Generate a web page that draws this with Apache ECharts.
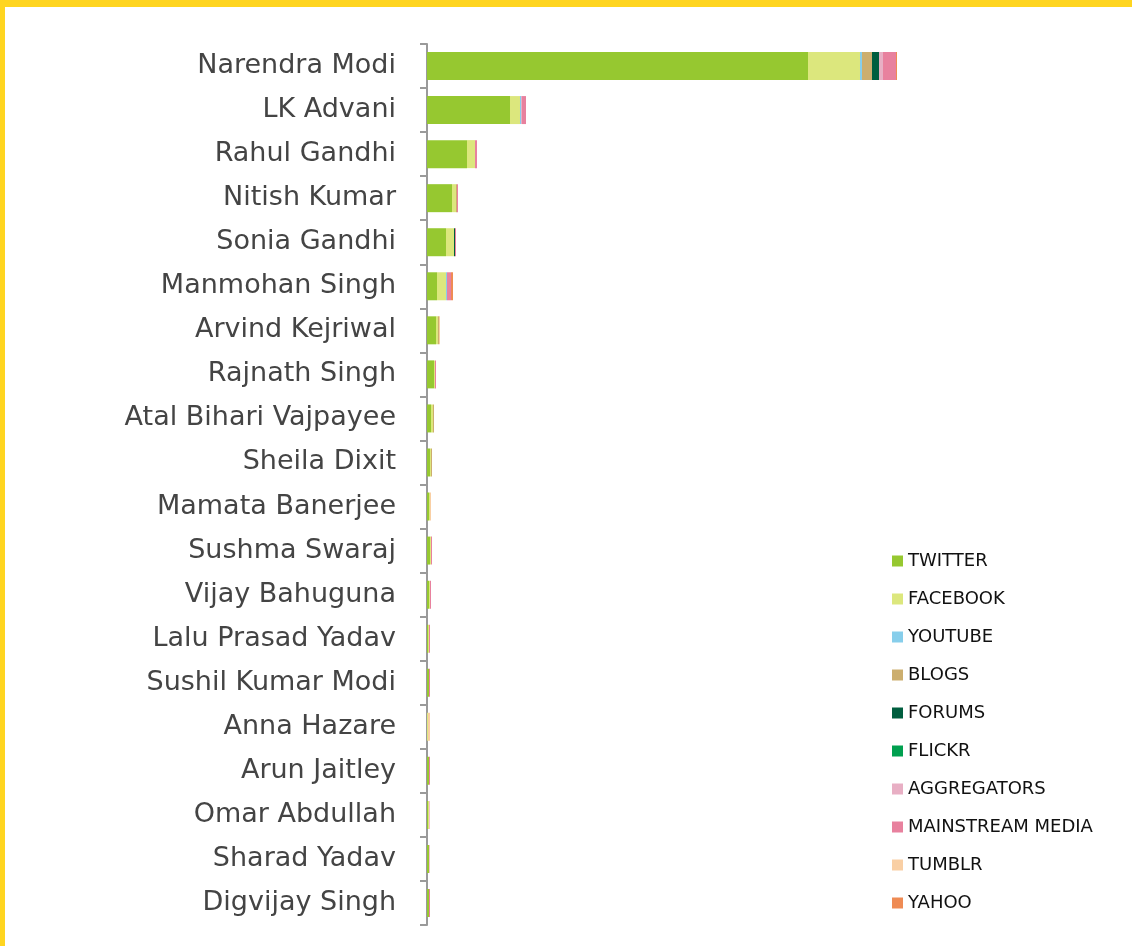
<!DOCTYPE html>
<html>
<head>
<meta charset="utf-8">
<script src="https://cdn.jsdelivr.net/npm/echarts@6/dist/echarts.min.js"></script>
<style>
  html, body { margin: 0; padding: 0; background: #fff; }
  .frame {
    width: 1132px; height: 946px; box-sizing: border-box;
    border-top: 7px solid #ffd520; border-left: 5px solid #ffd520;
  }
  #chart { width: 1127px; height: 939px; }
</style>
</head>
<body>
<div class="frame"><div id="chart"></div></div>
<script>
// leaders, top to bottom
var leaders = ['Narendra Modi', 'LK Advani', 'Rahul Gandhi', 'Nitish Kumar', 'Sonia Gandhi',
  'Manmohan Singh', 'Arvind Kejriwal', 'Rajnath Singh', 'Atal Bihari Vajpayee', 'Sheila Dixit',
  'Mamata Banerjee', 'Sushma Swaraj', 'Vijay Bahuguna', 'Lalu Prasad Yadav', 'Sushil Kumar Modi',
  'Anna Hazare', 'Arun Jaitley', 'Omar Abdullah', 'Sharad Yadav', 'Digvijay Singh']

// mentions per source (relative units)
var twitter     = [381, 83, 40, 25, 19, 10, 9, 7, 4, 3, 2, 3, 2, 1, 2, 0, 2, 1, 2, 2]
var facebook    = [52, 10, 8, 4, 8, 9, 2, 1, 2, 1, 1, 1, 1, 1, 0, 1, 0, 1, 0, 0]
var youtube     = [2, 1, 0, 0, 0, 1, 0, 0, 0, 0, 0, 0, 0, 0, 0, 0, 0, 0, 0, 0]
var blogs       = [10, 0, 0, 1, 0, 0, 1, 0, 1, 1, 0, 0, 0, 0, 0, 0, 0, 0, 0, 0]
var forums      = [7, 0, 0, 0, 1, 0, 0, 0, 0, 0, 0, 0, 0, 0, 0, 0, 0, 0, 0, 0]
var flickr      = [0, 0, 0, 0, 0, 0, 0, 0, 0, 0, 0, 0, 0, 0, 0, 0, 0, 0, 0, 0]
var aggregators = [4, 1, 0, 0, 0, 0, 0, 0, 0, 0, 0, 0, 0, 0, 0, 0, 0, 0, 0, 0]
var mainstream  = [13, 4, 2, 1, 1, 4, 0, 1, 0, 0, 0, 1, 1, 1, 1, 0, 1, 0.5, 0.5, 1]
var tumblr      = [0, 0, 0, 0, 0, 0, 1, 0, 0, 0, 1, 0, 0, 0, 0, 2, 0, 0, 0, 0]
var yahoo       = [1, 0, 0, 0, 0, 2, 0, 0, 0, 0, 0, 0, 0, 0, 0, 0, 0, 0, 0, 0]

var sources = ['TWITTER', 'FACEBOOK', 'YOUTUBE', 'BLOGS', 'FORUMS', 'FLICKR',
  'AGGREGATORS', 'MAINSTREAM MEDIA', 'TUMBLR', 'YAHOO']
var colors = ['#96c830', '#dce77d', '#87ceeb', '#ccae6e', '#005e3f', '#00a04f',
  '#e8afc4', '#e8819e', '#f9cfa4', '#ef8b54']
var values = [twitter, facebook, youtube, blogs, forums, flickr, aggregators, mainstream, tumblr, yahoo]

var chart = echarts.init(document.getElementById('chart'))

var series = sources.map(function (name, i) {
  return {
    name: name,
    type: 'bar',
    stack: 'all',
    barWidth: 28,
    itemStyle: { color: colors[i] },
    data: values[i],
    animation: false
  }
})

chart.setOption({
  textStyle: { fontFamily: 'DejaVu Sans' },
  legend: {
    orient: 'vertical',
    left: 882,
    top: 540,
    itemWidth: 11,
    itemHeight: 11,
    itemGap: 20,
    icon: 'rect',
    data: sources,
    textStyle: { fontSize: 18, color: '#111', fontFamily: 'DejaVu Sans' }
  },
  grid: {
    left: 422,
    top: 37,
    width: 673,
    height: 881
  },
  xAxis: {
    type: 'value',
    min: 0,
    max: 673,
    show: false
  },
  yAxis: {
    type: 'category',
    inverse: true,
    data: leaders,
    axisLine: { show: true, lineStyle: { color: '#9a9a9a', width: 2 } },
    axisTick: { show: true, length: 7, lineStyle: { color: '#9a9a9a', width: 2 } },
    axisLabel: { fontSize: 27, color: '#444', margin: 31, padding: [10, 0, 0, 0], fontFamily: 'DejaVu Sans' }
  },
  series: series
})
</script>
</body>
</html>
